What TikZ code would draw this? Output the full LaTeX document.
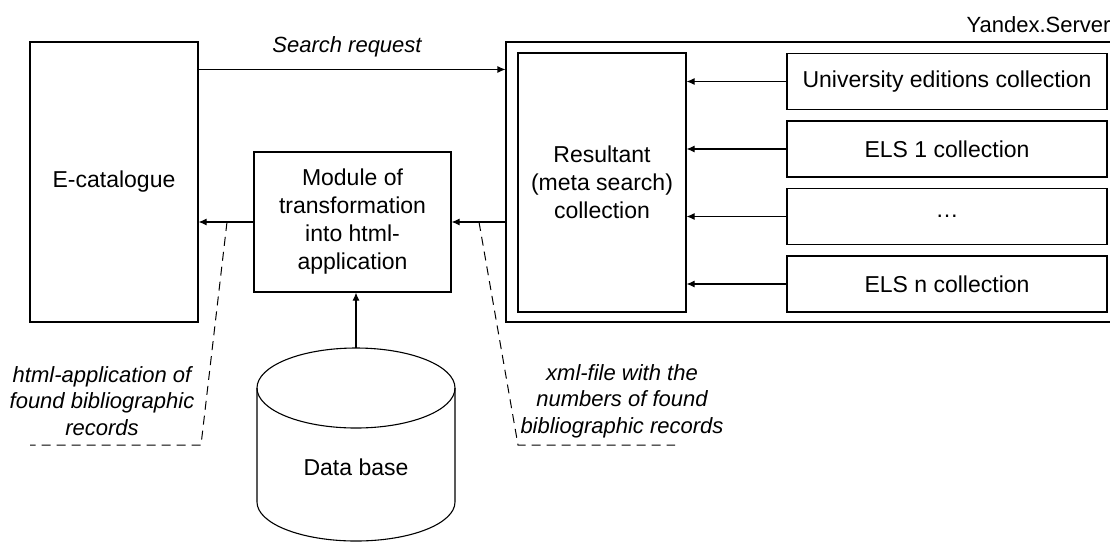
\documentclass[tikz,border=0pt]{standalone}
\usepackage{fontspec}
\setmainfont{Liberation Sans}
\usetikzlibrary{arrows.meta}

\begin{document}
\begin{tikzpicture}[x=1pt,y=-1pt,line width=1.1pt,
    box/.style={draw,inner sep=0pt,align=center,font=\fontsize{23}{28}\selectfont},
    arr/.style={-{Latex[length=8pt,width=7pt]}},
    note/.style={align=center,inner sep=0pt,font=\fontsize{22}{26.5}\selectfont\itshape},
    link/.style={dash pattern=on 9pt off 6pt,line width=1pt}]
  \clip (0,0) rectangle (1110,542);
  % left part
  \node[box,minimum width=168,minimum height=280] (ecat) at (114,182) {E-catalogue};
  \node[box,minimum width=197,minimum height=140] (module) at (352.5,222)
    {Module of\\transformation\\into html-\\application};
  % server with its collections
  \node[box,minimum width=610,minimum height=280] (server) at (811,182) {};
  \node[note,font=\fontsize{22}{26}\selectfont,anchor=east] (srvname) at (1111,25) {Yandex.Server};
  \node[box,minimum width=168,minimum height=259] (result) at (602,182.5)
    {Resultant\\(meta search)\\collection};
  \foreach \i/\txt in {1/University editions collection,2/ELS 1 collection,3/\ldots,4/ELS n collection} {
    \node[box,minimum width=320,minimum height=56] (coll\i) at (947,14+67.5*\i) {\txt};
    \draw[arr] (coll\i.west) -- (result.east |- coll\i.west);
  }
  % data base
  \node[font=\fontsize{23}{28}\selectfont] (db) at (356,467) {Data base};
  \coordinate (dbtop) at (356,348);
  \draw (257,388) -- (257,502) arc[start angle=180,end angle=0,x radius=99,y radius=39] -- (455,388);
  \draw (356,388) ellipse [x radius=99,y radius=40];
  % flows
  \node[note] (req) at (347,47) {Search request};
  \draw[arr] ([yshift=-28pt]ecat.north east) -- ([yshift=-28pt]server.north west);
  \draw[arr] (server.west |- module.east) -- (module.east);
  \draw[arr] (module.west) -- (ecat.east |- module.west);
  \draw[arr] (dbtop) -- (dbtop |- module.south);
  % callouts
  \coordinate (lhook) at (227,222); \coordinate (rhook) at (479,222);
  \draw[link] (lhook) -- (201,445) -- (30,445);
  \draw[link] (rhook) -- (518,445) -- (675,445);
  \node[note] (lnote) at (102,401) {html-application of\\found bibliographic\\records};
  \node[note] (rnote) at (622,401) {xml-file with the\\numbers of found\\bibliographic records};
\end{tikzpicture}
\end{document}
